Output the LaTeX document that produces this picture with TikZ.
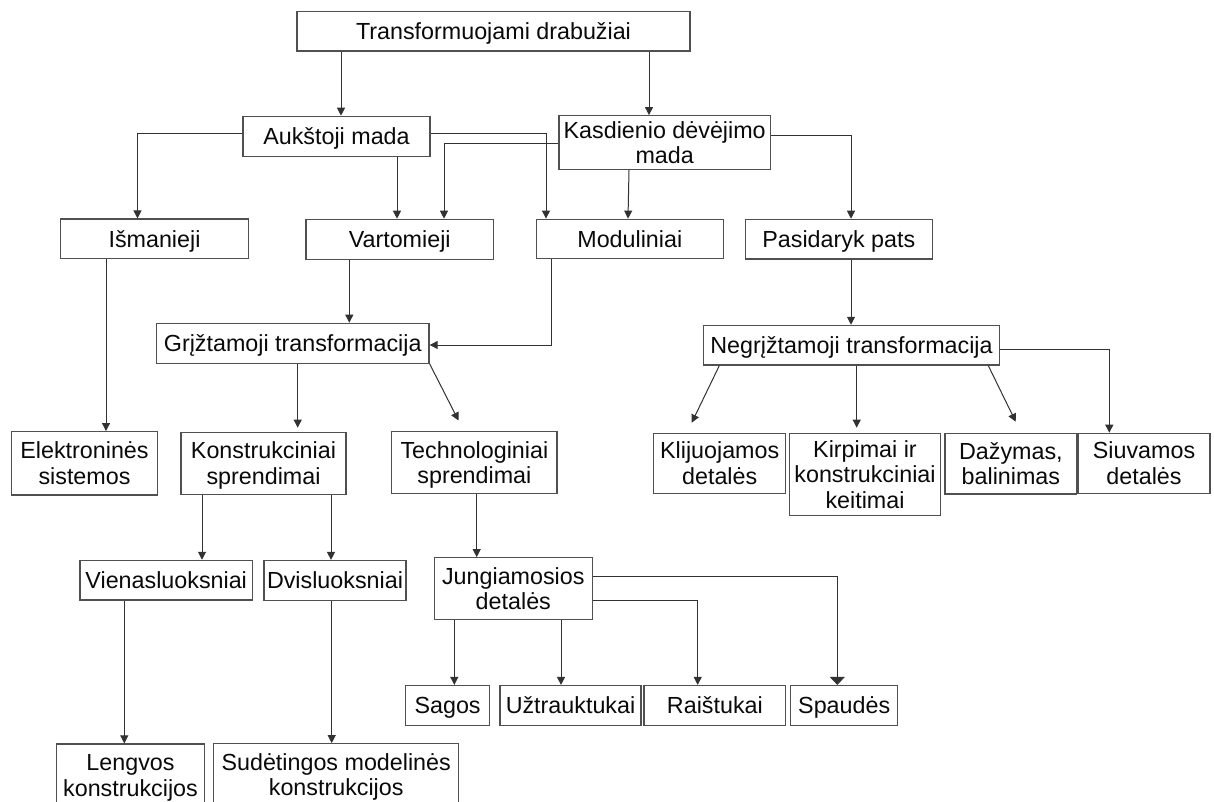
\documentclass[tikz,border=0pt]{standalone}
\usepackage{fontspec}
\setmainfont{Liberation Sans}
\usetikzlibrary{arrows.meta}
\definecolor{linec}{RGB}{50,50,50}
\definecolor{boxc}{RGB}{80,80,80}
\definecolor{txt}{RGB}{10,10,10}
\begin{document}
\begin{tikzpicture}[x=1pt,y=-1pt,
  box/.style={draw=boxc, line width=1.2pt, rectangle, inner sep=0pt, align=center, text=txt, font=\fontsize{23.3}{25.5}\selectfont},
  one/.style={text height=16.7pt,text depth=0pt},
  two/.style={text height=42.2pt,text depth=0pt},
  three/.style={text height=67.7pt,text depth=0pt},
  arr/.style={draw=linec, line width=1pt, -{Triangle[length=8pt,width=8pt]}},
  bigarr/.style={draw=linec, line width=1pt, -{Triangle[length=8pt,width=15pt]}},
]
\fill[white] (0,0) rectangle (1214,802);
\useasboundingbox (0,0) rectangle (1214,802);
\clip (0,0) rectangle (1214,802);

% level 0/1
\node[box,one,minimum width=393pt,minimum height=39.5pt] (top) at (493.5,31.3) {Transformuojami drabužiai};
\node[box,one,minimum width=187pt,minimum height=40pt] (auk) at (336.5,136.3) {Aukštoji mada};
\node[box,two,minimum width=211.3pt,minimum height=53.6pt] (kas) at (664.7,142.5) {Kasdienio dėvėjimo\\mada};

% level 2
\node[box,one,minimum width=187.6pt,minimum height=39.3pt] (ism) at (154.5,238.7) {Išmanieji};
\node[box,one,minimum width=187.3pt,minimum height=40pt] (var) at (399.7,239.3) {Vartomieji};
\node[box,one,minimum width=187pt,minimum height=39.6pt] (mod) at (629.8,239) {Moduliniai};
\node[box,one,minimum width=187pt,minimum height=39.7pt] (pas) at (838.8,239.2) {Pasidaryk pats};

% level 3
\node[box,one,minimum width=272.7pt,minimum height=40pt] (gri) at (292.7,343.3) {Grįžtamoji transformacija};
\node[box,one,minimum width=296.5pt,minimum height=39.7pt] (neg) at (851.5,345.2) {Negrįžtamoji transformacija};

% level 4
\node[box,two,minimum width=145.6pt,minimum height=63.3pt] (ele) at (84.5,463.3) {Elektroninės\\sistemos};
\node[box,two,minimum width=165pt,minimum height=62pt] (kon) at (263.5,463.3) {Konstrukciniai\\sprendimai};
\node[box,two,minimum width=165.3pt,minimum height=61.8pt] (tec) at (474.4,462.4) {Technologiniai\\sprendimai};
\node[box,two,minimum width=132pt,minimum height=60pt] (kli) at (719.7,463.3) {Klijuojamos\\detalės};
\node[box,three,minimum width=151.4pt,minimum height=82pt] (kir) at (865,474.3) {Kirpimai ir\\konstrukciniai\\keitimai};
\node[box,two,minimum width=131.7pt,minimum height=60.7pt] (daz) at (1010.9,463.7) {Dažymas,\\balinimas};
\node[box,two,minimum width=132pt,minimum height=60pt] (siu) at (1144,463.3) {Siuvamos\\detalės};

% level 5
\node[box,one,minimum width=172.3pt,minimum height=39.7pt] (vie) at (166.2,580.2) {Vienasluoksniai};
\node[box,one,minimum width=142pt,minimum height=39.8pt] (dvi) at (335,580.4) {Dvisluoksniai};
\node[box,two,minimum width=158pt,minimum height=61.6pt] (jun) at (513.3,588.5) {Jungiamosios\\detalės};

% level 6
\node[box,one,minimum width=83.8pt,minimum height=40.2pt] (sag) at (447.6,705.6) {Sagos};
\node[box,one,minimum width=141pt,minimum height=40.2pt] (uzt) at (570.5,705.6) {Užtrauktukai};
\node[box,one,minimum width=141.7pt,minimum height=40.2pt] (rai) at (714.9,705.6) {Raištukai};
\node[box,one,minimum width=107pt,minimum height=40.2pt] (spa) at (844.2,705.6) {Spaudės};

% level 7
\node[box,two,minimum width=148.4pt,minimum height=62pt] (len) at (130.5,775) {Lengvos\\konstrukcijos};
\node[box,two,minimum width=245pt,minimum height=62pt] (sud) at (336.2,774.7) {Sudėtingos modelinės\\konstrukcijos};

% connectors
\draw[arr] (top.south -| 341,0) -- (auk.north -| 341,0);
\draw[arr] (top.south -| 649,0) -- (kas.north -| 649,0);
\draw[arr] (auk.west |- 0,134) -| (ism.north -| 137.5,0);
\draw[arr] (auk.east |- 0,134) -| (mod.north -| 546,0);
\draw[arr] (auk.south -| 397,0) -- (var.north -| 397,0);
\draw[arr] (kas.west |- 0,144) -| (var.north -| 444,0);
\draw[arr] (kas.south -| 629,0) -- (mod.north -| 628,0);
\draw[arr] (kas.east |- 0,135.5) -| (pas.north -| 851,0);
\draw[arr] (ism.south -| 106,0) -- (ele.north -| 106,0);
\draw[arr] (var.south -| 349.3,0) -- (gri.north -| 349.3,0);
\draw[arr] (mod.south -| 551,0) |- (gri.east |- 0,345);
\draw[arr,shorten >=4pt] (gri.south -| 297.7,0) -- (kon.north -| 297.7,0);
\coordinate (tecin) at (458.5,420.5);
\draw[arr] (gri.south east) -- (tecin);
\draw[arr] (tec.south -| 476.7,0) -- (jun.north -| 476.7,0);
\draw[arr] (kon.south -| 202,0) -- (vie.north -| 202,0);
\draw[arr] (kon.south -| 331,0) -- (dvi.north -| 331,0);
\draw[arr] (vie.south -| 124.3,0) -- (len.north -| 124.3,0);
\draw[arr] (dvi.south -| 331.7,0) -- (sud.north -| 331.7,0);
\draw[arr] (jun.south -| 454.3,0) -- (sag.north -| 454.3,0);
\draw[arr] (jun.south -| 561,0) -- (uzt.north -| 561,0);
\draw[arr] (jun.east |- 0,600.7) -| (rai.north -| 697.7,0);
\draw[bigarr] (jun.east |- 0,576) -| (spa.north -| 837.3,0);
\draw[arr] (pas.south -| 851,0) -- (neg.north -| 851,0);
\coordinate (kliin) at (691.7,422.7);
\draw[arr] (neg.south -| 719.3,0) -- (kliin);
\draw[arr,shorten >=5pt] (neg.south -| 856.7,0) -- (kir.north -| 856.7,0);
\coordinate (dazin) at (1015.7,421.7);
\draw[arr] (neg.south -| 988.3,0) -- (dazin);
\draw[arr] (neg.east |- 0,349.3) -| (siu.north -| 1109.3,0);
\end{tikzpicture}
\end{document}
